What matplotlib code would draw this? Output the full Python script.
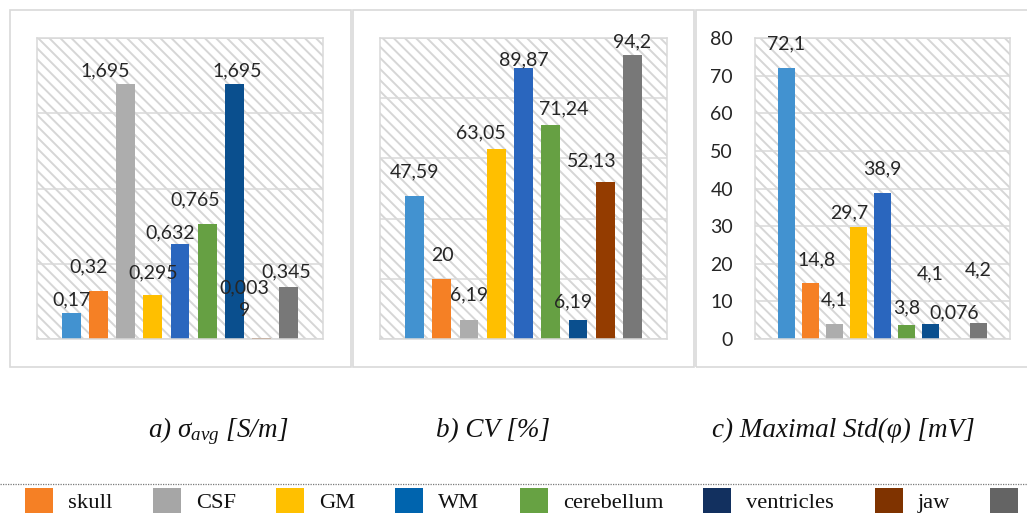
import textwrap

import matplotlib
matplotlib.use("Agg")
import matplotlib.pyplot as plt
import numpy as np
from matplotlib.lines import Line2D
from matplotlib.patches import Patch, Rectangle

plt.rcParams["font.family"] = ["Lato", "DejaVu Sans"]
plt.rcParams["mathtext.fontset"] = "custom"
plt.rcParams["mathtext.it"] = "Liberation Serif:italic"
plt.rcParams["mathtext.rm"] = "Liberation Serif:italic"
plt.rcParams["hatch.linewidth"] = 1.4

# ---- data: one value per tissue, in series order ----
sigma_avg = [0.17, 0.32, 1.695, 0.295, 0.632, 0.765, 1.695, 0.0039, 0.345]
cv_percent = [47.59, 20, 6.19, 63.05, 89.87, 71.24, 6.19, 52.13, 94.2]
max_std_phi = [72.1, 14.8, 4.1, 29.7, 38.9, 3.8, 4.1, 0.076, 4.2]

captions = [r"a) σ$_{avg}$ [S/m]", "b) CV [%]", "c) Maximal Std(φ) [mV]"]

legend_labels = ["skull", "CSF", "GM", "WM", "cerebellum", "ventricles", "jaw", ""]

# ---- styling ----
bar_colors = ["#4292D0", "#F58025", "#ADADAD", "#FFBF00", "#2A66BE",
              "#66A043", "#0A4F8E", "#943C00", "#787878"]
legend_colors = ["#F58025", "#A6A6A6", "#FFC000", "#0064AE",
                 "#67A243", "#12305F", "#7F3300", "#646464"]
grid_color = "#D9D9D9"
hatch_color = "#D6D6D6"
label_color = "#262626"

W, H = 1027, 517
fig = plt.figure(figsize=(W / 100, H / 100), dpi=100)
fig.patch.set_facecolor("white")


def px_box(x0, x1, y_top, y_bot):
    return [x0 / W, 1 - y_bot / H, (x1 - x0) / W, (y_bot - y_top) / H]


# label offsets (pixels right / up from the top centre of each bar)
offsets_a = [(0, 14), (-10, 24), (-20, 13), (0, 22), (-10, 11), (-12, 24),
             (3, 13), (-17, 39), (-2, 15)]
offsets_b = [(0, 24), (1, 23), (0, 25), (-15, 16), (0, 9), (13, 16),
             (-5, 18), (-13, 21), (0, 14)]
offsets_c = [(0, 24), (6, 23), (0, 24), (-9, 14), (0, 24), (0, 17),
             (0, 50), (0, 26), (0, 53)]

panels = [
    dict(values=sigma_avg, box=px_box(37, 323, 38, 339), ymax=2.0, step=0.5,
         width=0.69, margin=1.26, offsets=offsets_a, yticks=False),
    dict(values=cv_percent, box=px_box(380, 667, 38, 339), ymax=100, step=20,
         width=0.69, margin=1.27, offsets=offsets_b, yticks=False),
    dict(values=max_std_phi, box=px_box(755, 1010, 38, 339), ymax=80, step=10,
         width=0.72, margin=1.31, offsets=offsets_c, yticks=True),
]

# outer chart frames
for x0, x1 in [(9.5, 351), (352.5, 694), (695.5, 1032)]:
    fig.add_artist(Rectangle((x0 / W, 1 - 367 / H), (x1 - x0) / W, 357 / H,
                             transform=fig.transFigure, fill=False,
                             ec=grid_color, lw=1.2))


def fmt(v):
    s = f"{v:g}".replace(".", ",")
    return "\n".join(textwrap.wrap(s, 5))


for p in panels:
    ax = fig.add_axes(p["box"])
    vals = p["values"]
    x = np.arange(len(vals))

    ax.add_patch(Rectangle((0, 0), 1, 1, transform=ax.transAxes,
                           facecolor="white", edgecolor=hatch_color,
                           hatch="\\" * 3, lw=0, zorder=0))
    ax.set_axisbelow(True)
    ax.yaxis.grid(True, color=grid_color, lw=1.1)
    ax.bar(x, vals, width=p["width"], color=bar_colors, zorder=2)

    ax.set_xlim(-p["margin"], len(vals) - 1 + p["margin"])
    ax.set_ylim(0, p["ymax"])
    ax.set_yticks(np.arange(0, p["ymax"] + p["step"] / 2, p["step"]))
    ax.set_xticks([])
    ax.tick_params(axis="y", length=0, pad=15.8, labelsize=14,
                   labelcolor=label_color)
    if not p["yticks"]:
        ax.set_yticklabels([])
    for s in ax.spines.values():
        s.set_color(grid_color)
        s.set_linewidth(1.1)

    for xi, v, (dx, dy) in zip(x, vals, p["offsets"]):
        ax.annotate(fmt(v), (xi, v), xytext=(dx * 0.72, dy * 0.72),
                    textcoords="offset points", ha="center", va="center",
                    fontsize=14, color=label_color, linespacing=1.4,
                    annotation_clip=False, zorder=3)

# captions under each chart
for cx, text in zip([218, 492.5, 843], captions):
    fig.text(cx / W, 1 - 437 / H, text, ha="center", va="baseline",
             family="Liberation Serif", style="italic", size=19.5,
             color="#111111")

# legend strip
fig.add_artist(Line2D([0, 1], [1 - 484 / H] * 2, transform=fig.transFigure,
                      color="#7A7A7A", lw=0.9, ls=(0, (1, 1))))
handles = [Patch(facecolor=c, edgecolor="none") for c in legend_colors]
fig.legend(handles, legend_labels, loc="upper left",
           bbox_to_anchor=(25 / W, 1 - 488 / H), ncol=len(legend_labels),
           frameon=False, borderpad=0, borderaxespad=0,
           prop={"family": "Liberation Serif", "size": 16.2},
           handlelength=1.244, handleheight=1.3, handletextpad=0.667,
           columnspacing=1.79, labelcolor="#111111")

fig.savefig("out.png", dpi=100, facecolor="white")
